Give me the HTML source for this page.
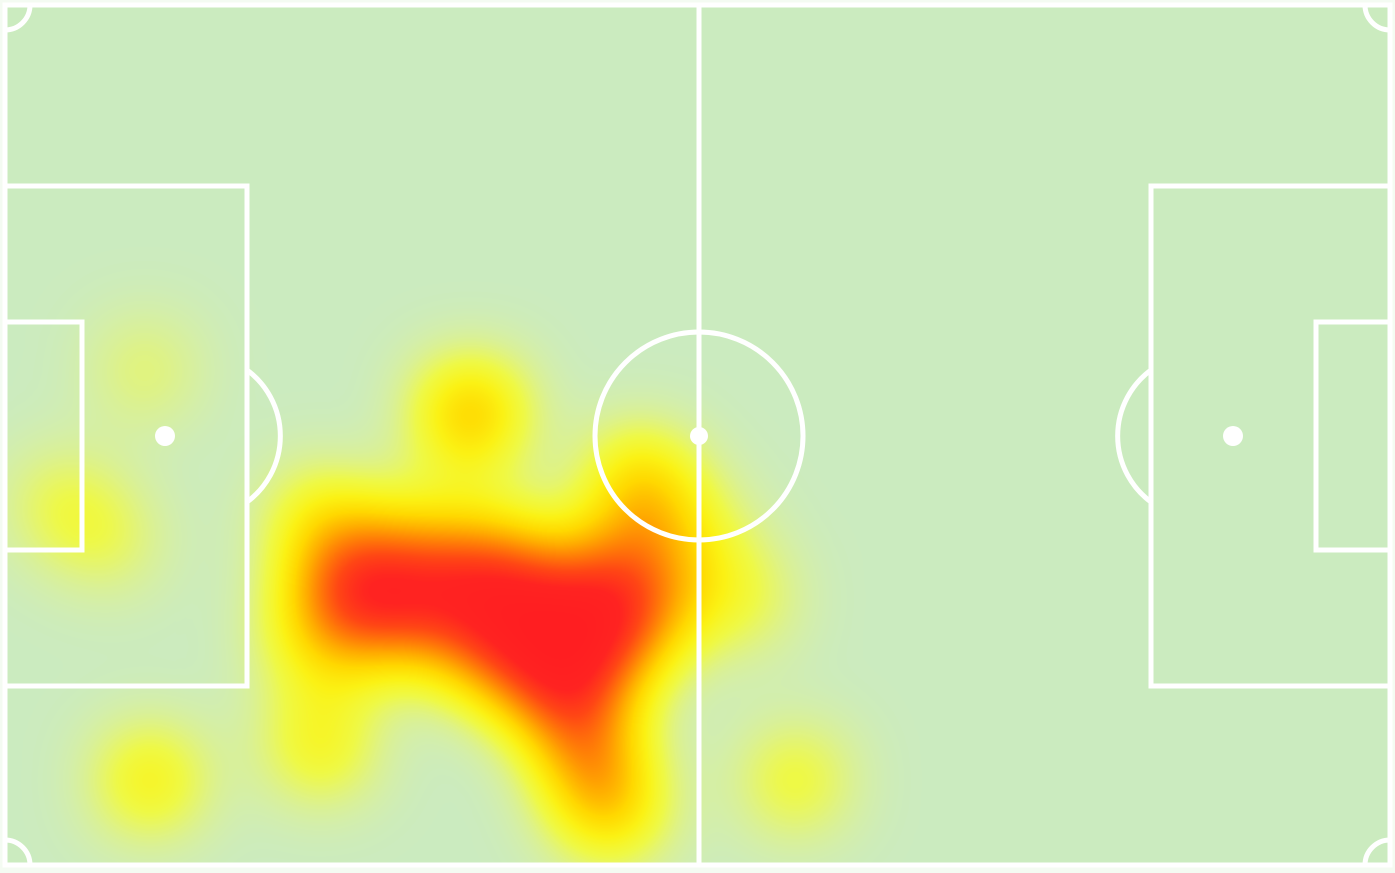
<!DOCTYPE html>
<html><head><meta charset="utf-8"><style>
html,body{margin:0;padding:0;background:#f4fbf2;}
svg{display:block;}
</style></head><body>
<svg width="1395" height="873" viewBox="0 0 1395 873">
<defs>
<filter id="heat" filterUnits="userSpaceOnUse" x="0" y="0" width="1395" height="873" color-interpolation-filters="sRGB">
<feGaussianBlur stdDeviation="40"/>
<feColorMatrix type="matrix" values="0 0 0 1 0  0 0 0 1 0  0 0 0 1 0  0 0 0 1 0"/>
<feComponentTransfer>
<feFuncR type="table" tableValues="1 1 1 1 1 1 1 1 1 1 1"/>
<feFuncG type="table" tableValues="1 1 1 0.95 0.85 0.68 0.48 0.28 0.14 0.12 0.12"/>
<feFuncB type="table" tableValues="0.3 0.15 0.05 0.02 0 0 0.03 0.08 0.13 0.13 0.13"/>
<feFuncA type="table" tableValues="0 0.3 0.68 0.92 1 1 1 1 1 1 1"/>
</feComponentTransfer>
</filter>
<clipPath id="pitch-clip"><rect x="5" y="5" width="1385" height="860"/></clipPath>
</defs>
<rect x="5" y="5" width="1385" height="860" fill="#cbebbf"/>
<g clip-path="url(#pitch-clip)"><g id="heat-layer" filter="url(#heat)"></g></g>
<g fill="none" stroke="#ffffff" stroke-width="5">
<rect x="5" y="5" width="1385" height="860"/>
<line x1="699" y1="5" x2="699" y2="865"/>
<circle cx="699" cy="436" r="104"/>
<rect x="5" y="186" width="242" height="500"/>
<rect x="5" y="322" width="77" height="228"/>
<path d="M247 370 A82 82 0 0 1 247 502"/>
<rect x="1151" y="186" width="239" height="500"/>
<rect x="1316" y="322" width="74" height="228"/>
<path d="M1151 370 A82 82 0 0 0 1151 502"/>
<path d="M5 30 A25 25 0 0 0 30 5"/>
<path d="M1365 5 A25 25 0 0 0 1390 30"/>
<path d="M5 840 A25 25 0 0 1 30 865"/>
<path d="M1365 865 A25 25 0 0 1 1390 840"/>
</g>
<circle cx="165" cy="436" r="10" fill="#fff"/>
<circle cx="1233" cy="436" r="10" fill="#fff"/>
<circle cx="699" cy="436" r="9" fill="#fff"/>
</svg>
<script>
const xs = [28.4,33.7,39.8,45.1,46.6,42.1,36.0,29.9,26.2,26.9,48.1,48.1,42.1,37.5,37.5,43.6,24.6,35.3,48.1,44.4,45.9,10.6,4.2,8.0,11.0,23.9,55.7,59.9,23.9,52.7,23.1,31.0,39.8,44.4];
const ys = [46.2,45.5,46.2,46.2,49.4,52.6,51.0,48.6,44.7,48.6,44.7,48.6,54.9,43.9,48.6,49.4,47.0,32.4,37.9,59.7,63.6,28.9,39.5,42.3,61.3,58.5,47.0,61.3,40.7,41.5,50.2,42.5,52.6,53.4];
const weights = [3,3,3,3,2.5,3,2.5,2.5,2.4,2.2,2.4,2.2,2.4,2.7,2.7,2.7,1.6,3,2.6,2.8,2.4,1,1.2,1,2,1.9,1.4,1.6,1.8,1.1,1.4,1.8,2.5,2.5];
const xScale = v => 5 + v * (1385 / 105);
const yScale = v => 5 + v * (860 / 68);
const layer = document.getElementById('heat-layer');
for (let i = 0; i < xs.length; i++) {
  const c = document.createElementNS('http://www.w3.org/2000/svg', 'circle');
  
  
  c.setAttribute('cx', xScale(xs[i]));
  c.setAttribute('cy', yScale(ys[i]));
  c.setAttribute('r', 46);
  c.setAttribute('fill', '#fff');
  c.setAttribute('fill-opacity', Math.min(1, weights[i] * 0.25));
  layer.appendChild(c);
}
</script>
</body></html>
